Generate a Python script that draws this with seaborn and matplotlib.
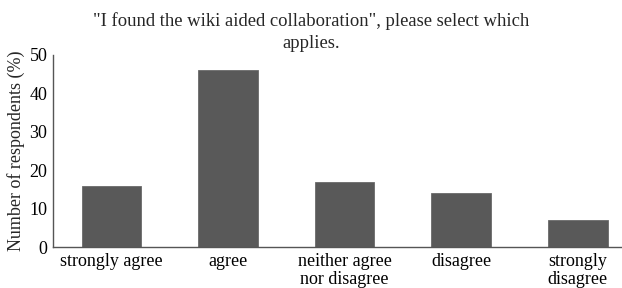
import seaborn as sns
import matplotlib.pyplot as plt
import pandas as pd

categories = ["strongly agree", "agree", "neither agree\nnor disagree", "disagree", "strongly\ndisagree"]
percent = [16, 46, 17, 14, 7]

df = pd.DataFrame({"answer": categories, "percent": percent})

sns.set_style("white")
plt.rcParams['font.family'] = ['Liberation Serif', 'DejaVu Serif']

fig = plt.figure(figsize=(6.22, 2.88), dpi=100)
ax = fig.add_axes([0.0852, 0.142, 0.915, 0.668])
sns.barplot(data=df, x="answer", y="percent", color="#595959", width=0.51,
            saturation=1, edgecolor="#6a6a6a", linewidth=0.6, ax=ax)
ax.set_xlim(-0.5, 4.38)
ax.set_ylim(0, 50)
ax.set_yticks([0, 10, 20, 30, 40, 50])
ax.tick_params(axis="x", length=0, labelsize=13, pad=4, colors="black")
ax.tick_params(axis="y", length=0, labelsize=13, pad=4, colors="black")
for lab in ax.get_xticklabels():
    lab.set_linespacing(1.12)
ax.set_xlabel("")
ax.set_ylabel("Number of respondents (%)", fontsize=13, labelpad=3)
for s in ["top", "right"]:
    ax.spines[s].set_visible(False)
for s in ["left", "bottom"]:
    ax.spines[s].set_color("#555555")
    ax.spines[s].set_linewidth(1)
fig.text(0.5, 1 - 26 / 288, "\"I found the wiki aided collaboration\", please select which",
         ha="center", va="baseline", fontsize=13.4)
fig.text(0.5, 1 - 48 / 288, "applies.", ha="center", va="baseline", fontsize=13.4)
plt.savefig("out.png", dpi=100)
